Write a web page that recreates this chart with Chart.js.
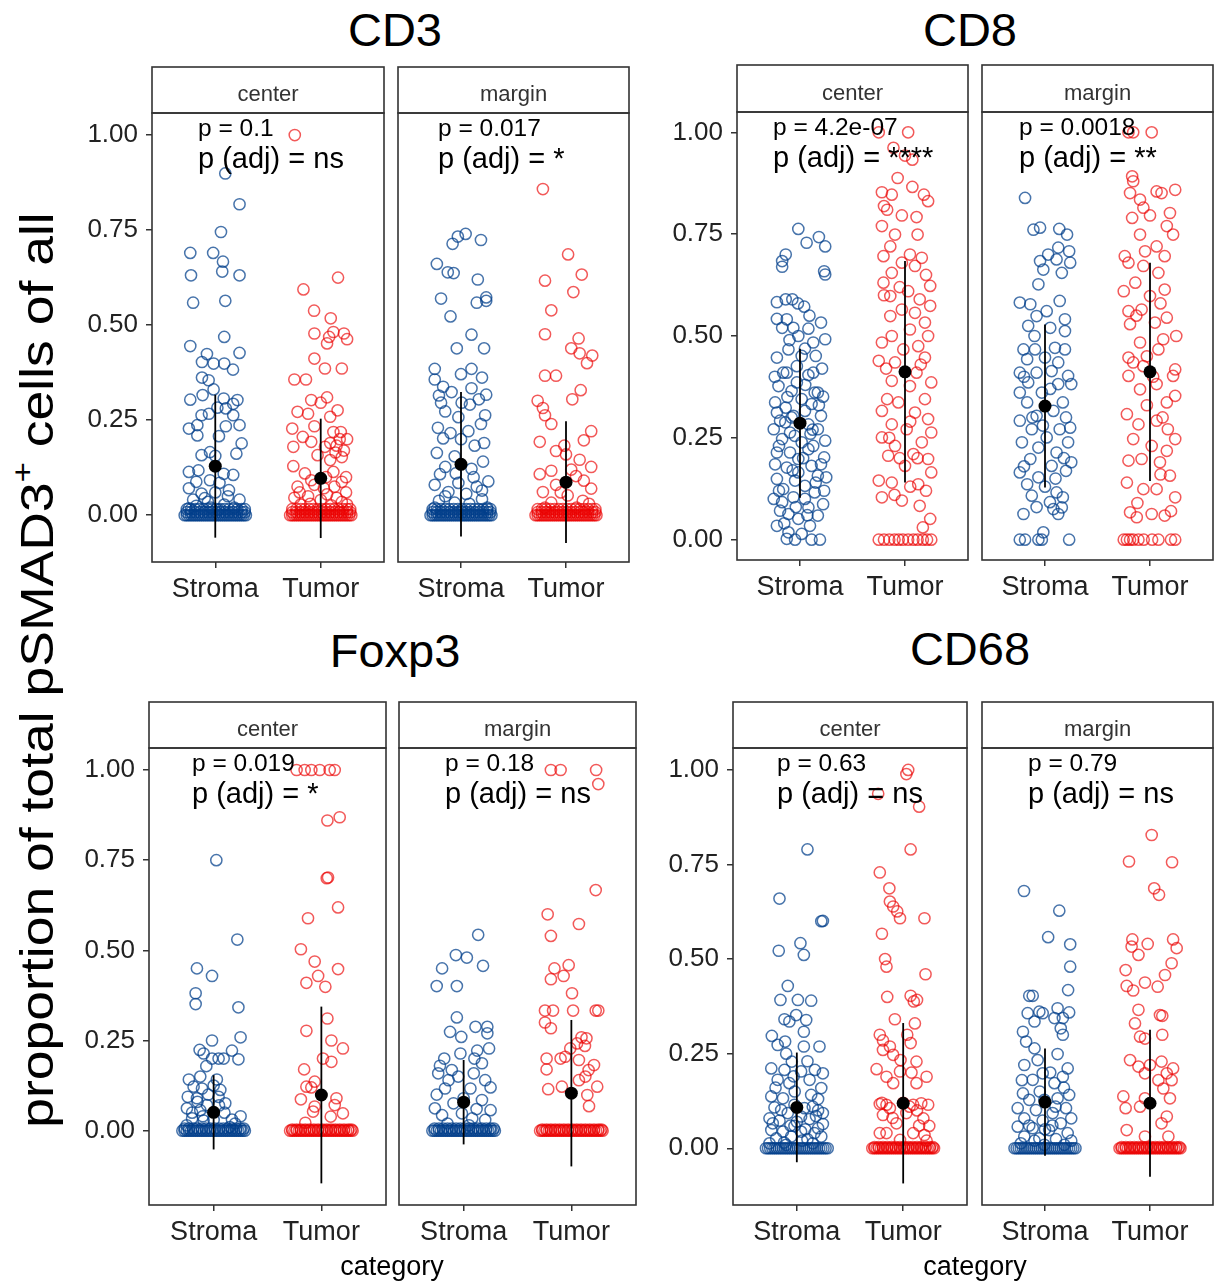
<!DOCTYPE html>
<html>
<head>
<meta charset="utf-8">
<title>pSMAD3 proportions</title>
<script src="https://cdn.jsdelivr.net/npm/chart.js@4.4.1/dist/chart.umd.min.js"></script>
<style>
  html, body { margin: 0; padding: 0; background: #fff; }
  body { width: 1214px; height: 1283px; position: relative; overflow: hidden; font-family: "Liberation Sans", Arial, sans-serif; }
  .facet { position: absolute; }
  .title { position: absolute; width: 300px; text-align: center; font-size: 47px; line-height: 46px; color: #000; }
  .xlab { position: absolute; width: 300px; text-align: center; font-size: 27px; line-height: 27px; color: #000; }
  #ylab { position: absolute; width: 1100px; text-align: center; font-size: 46px; line-height: 46px; white-space: nowrap; transform: rotate(-90deg) scaleX(1.163); color: #000; }
  #ylab sup { font-size: 30px; line-height: 0; vertical-align: 20px; }
</style>
</head>
<body>
<div id="ylab">proportion of total pSMAD3<sup>+</sup> cells of all</div>

<script>
// ---- Data ----
const groups = ['CD3', 'CD8', 'Foxp3', 'CD68'];
const facetNames = ['center', 'margin'];
const categories = ['Stroma', 'Tumor'];
const yTicks = [0, 0.25, 0.5, 0.75, 1];

const pRaw = [['0.1', '0.017'], ['4.2e-07', '0.0018'], ['0.019', '0.18'], ['0.63', '0.79']];
const pAdj = [['ns', '*'], ['****', '**'], ['*', 'ns'], ['ns', 'ns']];

// mean and sd per group, [center, margin]
const meanStroma = [[0.129, 0.134], [0.286, 0.328], [0.051, 0.079], [0.108, 0.122]];
const sdStroma = [[0.188, 0.19], [0.183, 0.2], [0.103, 0.117], [0.145, 0.142]];
const meanTumor = [[0.097, 0.087], [0.412, 0.412], [0.099, 0.104], [0.119, 0.119]];
const sdTumor = [[0.157, 0.16], [0.272, 0.268], [0.245, 0.203], [0.212, 0.194]];

// jittered points: [offset from category, value]
const zeroBandDx = [-0.29, -0.27, -0.25, -0.23, -0.21, -0.19, -0.17, -0.15, -0.13, -0.11, -0.09, -0.07, -0.05, -0.03, -0.01, 0.01, 0.03, 0.05, 0.07, 0.09, 0.11, 0.13, 0.15, 0.17, 0.19, 0.21, 0.23, 0.25, 0.27, 0.29];
const nearZeroDx = [-0.27, -0.23, -0.19, -0.15, -0.11, -0.07, -0.03, 0.01, 0.05, 0.09, 0.13, 0.17, 0.21, 0.25, 0.28];
const band = (y, dxs) => dxs.map(dx => [dx, y]);

const cd3CenterStroma = [[0.095,0.899],[0.23,0.818],[0.054,0.745],[-0.237,0.69],[-0.02,0.69],[0.073,0.667],[-0.23,0.631],[0.066,0.641],[0.23,0.631],[-0.21,0.559],[0.095,0.564],
  [0.085,0.469],[-0.237,0.445],[-0.079,0.424],[0.23,0.427],[-0.126,0.403],[-0.016,0.399],[0.085,0.399],[0.168,0.383],[-0.126,0.362],[-0.063,0.355],[-0.016,0.331],[-0.237,0.304],[-0.12,0.316],[0.08,0.307],[0.21,0.303],[0.17,0.293],[0.02,0.283],[0.1,0.281],[-0.13,0.263],[-0.06,0.267],[0.17,0.263],[-0.25,0.228],[-0.17,0.237],[0.1,0.234],[-0.17,0.21],[0.035,0.208],[0.23,0.237],[0.25,0.189],[0.2,0.162],[-0.13,0.158],[-0.05,0.166],[0,0.156],[-0.25,0.114],[-0.16,0.118],[0.08,0.109],[0.17,0.106],[-0.18,0.088],[-0.05,0.092],[0.04,0.085],[-0.25,0.071],[-0.13,0.057],[0,0.06],[0.13,0.066],[0.23,0.041],[-0.21,0.041],[-0.07,0.035],[0.085,0.028],[-0.25,0.018],
  [-0.1,0.045],[0.12,0.05],[0.18,0.02],[-0.18,0.025],[0.03,0.015],[-0.04,0.02],
  ...band(0, zeroBandDx), ...band(0.008, nearZeroDx), ...band(0.016, nearZeroDx)];
const cd3CenterTumor = [[-0.246,1.0],[0.164,0.625],[-0.164,0.594],[-0.063,0.538],[0.095,0.518],[-0.06,0.478],[0.12,0.482],[0.22,0.478],[0.08,0.469],[0.25,0.463],[0.06,0.452],[-0.06,0.412],[0.04,0.386],[0.2,0.386],[-0.25,0.357],[-0.14,0.357],[-0.09,0.303],[0.06,0.31],[0,0.296],[-0.22,0.272],[-0.12,0.267],[0.16,0.276],[0.09,0.259],[-0.27,0.228],[-0.17,0.206],[-0.06,0.234],[0.12,0.219],[0.19,0.219],[0.25,0.2],[-0.09,0.193],[0.09,0.19],[0.04,0.18],[0.15,0.183],[-0.26,0.18],[-0.03,0.158],[0.2,0.153],[0.09,0.145],[-0.26,0.129],[-0.15,0.11],[0.12,0.114],[0.24,0.1],[-0.09,0.092],[0.2,0.088],[-0.22,0.075],[-0.06,0.08],[0.03,0.071],[0.13,0.075],[0.24,0.06],[-0.25,0.046],[-0.12,0.05],[0,0.04],[0.15,0.046],[-0.19,0.028],[0.1,0.026],[0.25,0.028],
  [0.18,0.2],[0.22,0.17],[0.14,0.165],[-0.2,0.06],[0.06,0.055],[-0.1,0.03],[0.2,0.035],[0.05,0.1],
  ...band(0, zeroBandDx), ...band(0.008, nearZeroDx), ...band(0.016, nearZeroDx)];
const cd3MarginStroma = [[0.044,0.74],[-0.03,0.733],[-0.08,0.714],[0.19,0.724],[-0.23,0.661],[-0.126,0.639],[-0.07,0.637],[0.16,0.62],[-0.19,0.57],[0.15,0.559],[0.24,0.564],[0.24,0.573],[-0.1,0.523],[0.1,0.475],[-0.04,0.439],[0.22,0.439],[-0.25,0.385],[0.1,0.385],[0,0.371],[-0.25,0.357],[-0.17,0.338],[0.2,0.362],[-0.09,0.324],[0.1,0.334],[0.24,0.317],[-0.21,0.315],[-0.19,0.296],[0.006,0.296],[0.17,0.305],[-0.15,0.273],[0.085,0.291],[0.23,0.263],[-0.025,0.258],[0.19,0.24],[-0.1,0.216],[-0.17,0.202],[0.07,0.221],[0.13,0.183],[-0.23,0.164],[-0.06,0.155],[0.21,0.141],[-0.15,0.127],[0.1,0.122],[-0.2,0.108],[0.26,0.089],[-0.025,0.085],[-0.25,0.08],[0.15,0.075],[-0.12,0.061],[0.05,0.056],[0.2,0.042],[-0.21,0.038],[-0.06,0.033],
  [0,0.2],[0.22,0.19],[-0.22,0.23],[-0.05,0.11],[0.12,0.1],[0.2,0.065],[-0.15,0.05],[0.08,0.03],[-0.25,0.02],[0.25,0.02],
  ...band(0, zeroBandDx), ...band(0.008, nearZeroDx), ...band(0.016, nearZeroDx)];
const cd3MarginTumor = [[-0.22,0.858],[0.02,0.686],[0.15,0.633],[-0.2,0.617],[0.07,0.587],[-0.14,0.539],[-0.2,0.476],[0.12,0.465],[0.05,0.439],[0.13,0.426],[0.25,0.42],[0.2,0.4],[-0.2,0.367],[-0.095,0.367],[0.14,0.329],[0.06,0.305],[-0.27,0.301],[-0.22,0.282],[-0.2,0.263],[-0.14,0.24],[0.24,0.221],[0.17,0.197],[-0.25,0.193],[-0.016,0.183],[-0.095,0.169],[0,0.16],[0.13,0.146],[0.24,0.127],[-0.25,0.108],[-0.14,0.117],[0.095,0.103],[0.17,0.091],[-0.095,0.08],[0.24,0.07],[-0.22,0.061],[0.016,0.052],[0.16,0.038],[-0.14,0.033],
  [0.05,0.12],[-0.05,0.06],[0.1,0.02],[-0.2,0.02],[0.22,0.03],
  ...band(0, zeroBandDx), ...band(0.008, nearZeroDx), ...band(0.016, nearZeroDx)];

const cd8CenterStroma = [[-0.016,0.763],[0.063,0.729],[0.18,0.743],[0.24,0.72],[-0.136,0.7],[-0.17,0.684],[-0.17,0.67],[0.23,0.659],[0.24,0.651],[-0.22,0.583],[-0.136,0.59],[-0.073,0.59],[0.04,0.572],[-0.22,0.542],[-0.126,0.541],[-0.063,0.52],[0.2,0.533],[0.08,0.518],[-0.17,0.52],[-0.016,0.5],[0.24,0.492],[0.126,0.484],[0.047,0.469],[-0.11,0.467],[-0.22,0.447],[0.15,0.451],[-0.03,0.426],[-0.126,0.41],[0.08,0.404],[-0.205,0.377],[0.17,0.361],[-0.03,0.386],[-0.08,0.365],[0.22,0.351],[-0.237,0.337],[0.016,0.345],[0.11,0.333],[-0.136,0.324],[-0.22,0.312],[-0.063,0.304],[0.2,0.304],[-0.19,0.292],[0.08,0.283],[0.17,0.271],[-0.25,0.271],[-0.095,0.263],[0.24,0.243],[-0.17,0.247],[0.016,0.239],[0.126,0.23],[-0.22,0.214],[-0.095,0.214],[0.23,0.202],[-0.016,0.198],[-0.237,0.185],[-0.126,0.177],[0.11,0.181],[0.25,0.153],[0.17,0.157],[-0.22,0.149],[-0.047,0.145],[0.047,0.132],[-0.16,0.124],[0.14,0.116],[-0.25,0.1],[-0.063,0.104],[0.22,0.087],[0.08,0.079],[-0.19,0.071],[-0.11,0.063],[0.17,0.059],[-0.016,0.051],[-0.22,0.034],[0.095,0.034],[-0.126,0.002],[-0.047,0],[0.11,0],[0.19,0],[-0.11,0.018],[0.016,0.014],[-0.17,0.092],[0.047,0.1],[-0.016,0.165],[0.08,0.222],[-0.14,0.288],[0.047,0.316],[0.126,0.41],[-0.16,0.41],[0.016,0.451],[0.14,0.361],[-0.05,0.255],[0.2,0.185],
  [-0.2,0.23],[0.1,0.26],[-0.08,0.3],[0.18,0.33],[-0.12,0.35],[0.05,0.38],[-0.24,0.4],[0.21,0.42],[0.03,0.2],[-0.07,0.17],[0.15,0.14],[-0.2,0.12],[0.07,0.06],[-0.04,0.08],[0.23,0.12],[-0.15,0.04],[0.12,0.27],[-0.1,0.49],[0.09,0.55],[-0.02,0.58]];
const cd8CenterTumor = [[0.03,1.0],[-0.25,1.0],[-0.11,0.962],[0,0.943],[0.07,0.933],[-0.07,0.888],[-0.22,0.853],[-0.126,0.847],[0.07,0.866],[0.18,0.847],[0.22,0.831],[-0.2,0.819],[-0.17,0.81],[-0.03,0.796],[0.11,0.792],[-0.22,0.77],[-0.095,0.749],[0.12,0.749],[-0.14,0.72],[-0.205,0.696],[0.047,0.7],[0.16,0.692],[-0.03,0.68],[0.095,0.672],[-0.126,0.655],[0.24,0.623],[-0.205,0.631],[0.03,0.61],[-0.14,0.598],[0.14,0.59],[0.24,0.574],[-0.03,0.565],[0.095,0.557],[-0.14,0.549],[0.19,0.533],[0.047,0.516],[-0.126,0.5],[0.22,0.5],[-0.22,0.484],[0.126,0.475],[-0.016,0.467],[-0.25,0.439],[-0.095,0.435],[0.19,0.447],[0.11,0.41],[-0.126,0.39],[0.25,0.386],[0.047,0.377],[-0.17,0.345],[0.19,0.345],[-0.063,0.337],[0.095,0.312],[-0.22,0.316],[0.22,0.296],[-0.126,0.283],[0.016,0.271],[-0.22,0.251],[0.25,0.263],[0.16,0.239],[-0.095,0.23],[0.08,0.21],[-0.16,0.206],[0.22,0.198],[0,0.181],[0.25,0.165],[-0.25,0.145],[-0.126,0.14],[0.126,0.136],[-0.22,0.104],[-0.03,0.096],[0.14,0.083],[0.24,0.051],[0.17,0.03],
  [-0.25,0],[-0.2,0],[-0.15,0],[-0.1,0],[-0.06,0],[-0.02,0],[0.03,0],[0.08,0],[0.12,0],[0.17,0],[0.21,0],[0.25,0],
  [-0.2,0.6],[0.2,0.65],[-0.05,0.62],[0.15,0.43],[-0.18,0.42],[0.05,0.29],[-0.05,0.2],[0.12,0.2],[-0.15,0.25],[0.2,0.12],[-0.1,0.11],[0.05,0.13]];
const cd8MarginStroma = [[-0.19,0.839],[-0.11,0.761],[-0.047,0.766],[0.136,0.763],[0.21,0.749],[0.126,0.717],[0.03,0.7],[0.23,0.708],[-0.047,0.684],[0.11,0.688],[0.24,0.68],[-0.016,0.663],[0.16,0.655],[-0.063,0.627],[-0.24,0.582],[-0.14,0.578],[0.016,0.561],[0.14,0.586],[-0.08,0.549],[0.19,0.541],[-0.16,0.525],[0.19,0.512],[-0.205,0.467],[-0.095,0.467],[0.095,0.471],[0.19,0.467],[-0.17,0.443],[0,0.447],[0.126,0.435],[-0.24,0.41],[-0.08,0.41],[0.063,0.414],[0.22,0.402],[-0.16,0.386],[0.126,0.382],[0.25,0.382],[-0.24,0.361],[-0.03,0.361],[-0.17,0.337],[0.17,0.337],[0.08,0.316],[-0.08,0.304],[-0.24,0.292],[0.24,0.275],[-0.126,0.271],[0.14,0.271],[0.016,0.251],[-0.22,0.239],[0.22,0.239],[-0.063,0.226],[0.11,0.214],[-0.14,0.198],[0.25,0.19],[0.063,0.181],[-0.24,0.165],[0.2,0.169],[-0.063,0.153],[-0.17,0.136],[0.11,0.116],[0.17,0.104],[0.047,0.092],[-0.126,0.108],[0.16,0.079],[0.08,0.075],[-0.205,0.063],[0.126,0.063],[-0.016,0.018],
  [-0.24,0],[-0.19,0],[-0.063,0],[-0.03,0],[0.23,0],
  [-0.1,0.5],[0.05,0.52],[-0.2,0.4],[0.05,0.37],[-0.12,0.3],[0.2,0.3],[-0.02,0.28],[0.18,0.2],[-0.2,0.18],[0,0.13],[-0.08,0.08],[0.1,0.15]];
const cd8MarginTumor = [[-0.16,1.0],[0.016,1.0],[-0.205,1.0],[-0.17,0.892],[-0.16,0.88],[0.24,0.859],[0.063,0.855],[0.11,0.851],[-0.19,0.851],[-0.095,0.835],[-0.063,0.815],[0.19,0.802],[0,0.796],[-0.17,0.79],[0.16,0.77],[0.22,0.749],[-0.095,0.749],[0.063,0.72],[-0.047,0.708],[0.14,0.696],[-0.24,0.696],[-0.205,0.68],[-0.063,0.672],[0.08,0.655],[-0.14,0.631],[0.14,0.614],[-0.25,0.61],[0,0.598],[-0.08,0.565],[-0.205,0.561],[0.16,0.545],[0.047,0.533],[-0.19,0.529],[0.25,0.5],[0.126,0.492],[-0.095,0.484],[0.08,0.467],[-0.205,0.447],[-0.16,0.435],[-0.063,0.426],[0.24,0.418],[0.22,0.402],[0.063,0.382],[-0.205,0.402],[-0.095,0.369],[0.24,0.353],[0.16,0.337],[-0.22,0.308],[0.063,0.292],[-0.11,0.283],[0.17,0.271],[-0.16,0.247],[0.24,0.247],[0.016,0.23],[0.16,0.218],[-0.08,0.198],[-0.205,0.194],[0.095,0.19],[0.19,0.157],[-0.063,0.124],[0.063,0.124],[0.24,0.104],[-0.19,0.067],[-0.126,0.055],[0.016,0.063],[0.14,0.059],
  [-0.25,0],[-0.22,0],[-0.19,0],[-0.16,0],[-0.11,0],[-0.06,0],[0.02,0],[0.08,0],[0.2,0],[0.24,0],
  [-0.03,0.45],[0.03,0.4],[-0.13,0.55],[0.1,0.58],[-0.03,0.33],[0.12,0.3],[-0.22,0.14],[0.1,0.16],[-0.12,0.09],[0.2,0.07]];

const foxCenterStroma = [[0.025,0.75],[0.22,0.53],[-0.155,0.45],[-0.015,0.429],[-0.167,0.381],[-0.167,0.351],[0.23,0.342],[-0.015,0.25],[0.25,0.259],[-0.13,0.224],[-0.093,0.214],[0.17,0.222],[-0.015,0.2],[0.046,0.2],[0.093,0.2],[0.23,0.198],[-0.068,0.179],[-0.23,0.142],[-0.124,0.15],[0.03,0.142],[-0.186,0.122],[-0.108,0.117],[0.062,0.113],[-0.24,0.094],[-0.155,0.09],[0.046,0.094],[0.108,0.076],[-0.248,0.062],[-0.124,0.057],[-0.062,0.071],[-0.2,0.034],[0.17,0.031],[-0.093,0.028],
  [-0.2,0.05],[-0.1,0.04],[0,0.03],[0.1,0.05],[0.2,0.02],[-0.25,0.015],[0.15,0.01],[0.05,0.07],[-0.15,0.08],[0.25,0.04],[-0.05,0.1],[0,0.125],
  ...band(0, zeroBandDx), ...band(0.006, nearZeroDx)];
const foxCenterTumor = [[-0.23,1],[-0.155,1],[-0.093,1],[-0.015,1],[0.077,1],[0.124,1],[0.17,0.869],[0.056,0.86],[0.062,0.702],[0.05,0.7],[0.155,0.619],[-0.124,0.589],[-0.19,0.503],[-0.062,0.469],[0.155,0.448],[-0.03,0.429],[-0.139,0.41],[0.037,0.399],[0.056,0.311],[-0.139,0.277],[0.093,0.25],[0.2,0.228],[0.015,0.2],[0.093,0.191],[-0.16,0.17],[-0.062,0.136],[-0.139,0.122],[-0.093,0.12],[-0.19,0.087],[0.14,0.09],[-0.062,0.067],[0.124,0.071],[-0.077,0.053],[0.2,0.048],[0.087,0.039],[-0.149,0.022],
  ...band(0, zeroBandDx), ...band(0.003, nearZeroDx)];
const foxMarginStroma = [[0.135,0.543],[-0.072,0.487],[0.03,0.48],[-0.2,0.45],[0.18,0.457],[-0.25,0.401],[-0.063,0.401],[-0.063,0.314],[-0.126,0.274],[-0.022,0.26],[0.11,0.288],[0.22,0.288],[0.22,0.27],[0.126,0.222],[0.236,0.228],[-0.18,0.2],[-0.03,0.214],[-0.236,0.159],[-0.11,0.168],[0.094,0.159],[0.2,0.14],[-0.173,0.117],[0.063,0.117],[-0.267,0.062],[0.25,0.057],[-0.094,0.076],[0.17,0.085],[-0.2,0.043],[0.08,0.034],[-0.016,0.048],[-0.14,0.14],[0.17,0.187],
  [-0.25,0.1],[0,0.09],[0.12,0.06],[-0.05,0.15],[0.25,0.12],[-0.15,0.02],[0.05,0.015],[0.2,0.03],[-0.22,0.18],[0.1,0.2],
  ...band(0, zeroBandDx), ...band(0.006, nearZeroDx)];
const foxMarginTumor = [[-0.19,1],[-0.1,1],[0.23,1],[0.25,0.961],[0.226,0.667],[-0.22,0.6],[0.07,0.573],[-0.19,0.54],[-0.025,0.459],[-0.157,0.45],[-0.072,0.429],[-0.19,0.42],[0.006,0.381],[-0.245,0.333],[-0.17,0.333],[0.016,0.333],[0.226,0.333],[0.25,0.333],[-0.245,0.3],[-0.19,0.284],[0.094,0.259],[0.14,0.256],[0.053,0.242],[-0.01,0.228],[0.126,0.235],[-0.057,0.205],[-0.23,0.2],[-0.1,0.2],[0.07,0.196],[0.21,0.182],[-0.23,0.17],[0.16,0.168],[0.07,0.14],[0.13,0.15],[-0.088,0.122],[0.24,0.122],[-0.215,0.115],[0.148,0.099],[0.164,0.068],
  ...band(0, zeroBandDx), ...band(0.003, nearZeroDx)];

const cd68CenterStroma = [[0.1,0.79],[-0.163,0.66],[0.245,0.601],[0.23,0.6],[0.034,0.542],[-0.17,0.522],[0.066,0.511],[-0.085,0.429],[-0.154,0.392],[0.01,0.392],[0.135,0.39],[-0.116,0.341],[-0.006,0.352],[0.088,0.339],[-0.07,0.335],[0.066,0.308],[-0.235,0.297],[-0.11,0.282],[-0.18,0.273],[0.066,0.269],[0.213,0.269],[-0.047,0.229],[-0.24,0.211],[-0.116,0.207],[0.04,0.203],[0.17,0.207],[0.245,0.198],[-0.18,0.181],[0.12,0.181],[-0.07,0.172],[0.23,0.159],[0.135,0.141],[-0.24,0.137],[-0.13,0.132],[-0.02,0.15],[-0.21,0.108],[0.072,0.106],[0.2,0.1],[-0.085,0.093],[-0.257,0.079],[-0.163,0.073],[0.12,0.077],[0.245,0.064],[-0.022,0.059],[-0.24,0.048],[-0.13,0.044],[0.04,0.044],[0.166,0.04],[-0.194,0.026],[-0.053,0.031],[0.1,0.024],[0.23,0.031],[-0.257,0.013],[-0.1,0.009],[0.15,0.013],[-0.226,0.066],[0.04,0.084],[0.2,0.053],[-0.147,0.101],[0.245,0.093],[-0.022,0.115],
  [0,0.07],[0.08,0.05],[-0.06,0.06],[0.15,0.11],[-0.2,0.16],[0.1,0.23],[-0.1,0.25],[0.18,0.085],[-0.12,0.015],[0.05,0.02],[-0.03,0.19],[0.2,0.13],
  ...band(0, zeroBandDx)];
const cd68CenterTumor = [[0.047,1],[0.03,0.989],[-0.235,0.937],[0.15,0.903],[0.07,0.79],[-0.22,0.729],[-0.13,0.687],[-0.125,0.652],[-0.094,0.639],[-0.056,0.626],[-0.03,0.608],[0.2,0.608],[-0.2,0.567],[-0.17,0.5],[-0.157,0.48],[0.21,0.46],[-0.15,0.4],[0.07,0.403],[0.1,0.388],[0.13,0.392],[-0.078,0.341],[0.11,0.33],[0.038,0.3],[-0.22,0.3],[-0.19,0.285],[-0.125,0.269],[0.07,0.278],[-0.19,0.26],[-0.094,0.247],[-0.025,0.233],[0.125,0.229],[-0.25,0.209],[-0.157,0.189],[0.22,0.189],[-0.03,0.203],[0.078,0.2],[-0.094,0.172],[0.125,0.172],[-0.22,0.117],[-0.157,0.115],[-0.125,0.106],[0.094,0.115],[0.17,0.119],[0.235,0.115],[-0.19,0.088],[0.03,0.093],[0.19,0.079],[-0.063,0.066],[0.245,0.059],[-0.157,0.04],[0.094,0.04],[0.2,0.035],[-0.03,0.022],
  [-0.2,0.12],[0,0.12],[0.06,0.11],[0.13,0.1],[-0.1,0.08],[0.15,0.06],[-0.22,0.04],[0.22,0.02],
  ...band(0, zeroBandDx), ...band(0.003, nearZeroDx)];
const cd68MarginStroma = [[-0.2,0.68],[0.136,0.628],[0.03,0.558],[0.24,0.539],[0.24,0.48],[0.22,0.418],[-0.15,0.403],[-0.117,0.403],[-0.054,0.361],[-0.165,0.357],[-0.022,0.357],[0.12,0.37],[0.23,0.359],[0.09,0.344],[0.17,0.344],[-0.1,0.335],[-0.21,0.308],[0.15,0.317],[-0.18,0.282],[0.17,0.3],[-0.1,0.264],[0.12,0.249],[-0.197,0.22],[-0.07,0.233],[0.216,0.211],[-0.022,0.198],[0.17,0.189],[-0.117,0.181],[0.09,0.172],[-0.21,0.145],[0.23,0.141],[-0.15,0.128],[0.12,0.132],[-0.006,0.128],[-0.26,0.106],[0.2,0.106],[-0.086,0.101],[0.073,0.093],[-0.197,0.079],[0.25,0.079],[-0.022,0.073],[0.15,0.066],[-0.26,0.057],[-0.117,0.053],[0.04,0.048],[0.216,0.04],[-0.197,0.031],[-0.054,0.026],[0.105,0.024],[-0.23,0.013],[-0.006,0.009],[0.184,0.009],
  [-0.05,0.15],[0.05,0.2],[-0.15,0.06],[0.1,0.11],[-0.22,0.18],[0,0.05],[0.18,0.16],[-0.1,0.02],[0.07,0.06],[0.25,0.02],
  ...band(0, zeroBandDx)];
const cd68MarginTumor = [[0.016,0.828],[-0.2,0.758],[0.21,0.756],[0.04,0.687],[0.086,0.67],[-0.168,0.552],[-0.022,0.54],[0.22,0.552],[0.254,0.529],[-0.175,0.533],[-0.11,0.511],[0.206,0.489],[-0.232,0.471],[0.143,0.458],[-0.048,0.438],[-0.222,0.429],[-0.16,0.417],[0.073,0.427],[-0.11,0.366],[0.095,0.352],[0.117,0.35],[-0.143,0.33],[-0.095,0.295],[-0.048,0.29],[0.117,0.3],[-0.19,0.233],[-0.11,0.216],[0,0.22],[0.11,0.229],[0.22,0.211],[-0.048,0.198],[0.16,0.198],[0.08,0.18],[0.206,0.18],[0.127,0.158],[-0.254,0.137],[-0.048,0.132],[0.19,0.132],[-0.232,0.106],[-0.095,0.11],[0.16,0.084],[0.11,0.066],[-0.222,0.048],[-0.048,0.031],[0.175,0.031],
  ...band(0, zeroBandDx), ...band(0.003, nearZeroDx)];

const stromaPoints = [[cd3CenterStroma, cd3MarginStroma], [cd8CenterStroma, cd8MarginStroma], [foxCenterStroma, foxMarginStroma], [cd68CenterStroma, cd68MarginStroma]];
const tumorPoints = [[cd3CenterTumor, cd3MarginTumor], [cd8CenterTumor, cd8MarginTumor], [foxCenterTumor, foxMarginTumor], [cd68CenterTumor, cd68MarginTumor]];

// ---- Layout ----
const FONT = '"Liberation Sans", Arial, sans-serif';
const BLUE = 'rgba(0, 62, 138, 0.72)';
const RED = 'rgba(235, 0, 0, 0.65)';
const INK = '#222';

const panelLeft = [[152, 398], [737, 982], [149, 399], [733, 982]];
const panelRight = [[384, 629], [968, 1213], [386, 636], [967, 1213]];
const stripTop = [67, 65, 702, 702];
const plotTop = [113, 112, 748, 748];
const plotBottom = [562, 560, 1205, 1205];
const yMin = [-0.123, -0.05, -0.206, -0.15];
const yMax = [1.058, 1.05, 1.061, 1.058];
const pTextX = [[46, 40], [36, 37], [43, 46], [44, 46]];
const titleX = [395, 970, 395, 970];
const titleY = [29, 29, 650, 648];

// Panel decorations: strip, border, p-value labels
const facetDecor = {
    id: 'facetDecor',
    afterDraw(chart, args, opts) {
        const { ctx, chartArea: a } = chart;
        ctx.save();
        // p-values
        ctx.fillStyle = '#000';
        ctx.textAlign = 'left';
        ctx.textBaseline = 'alphabetic';
        ctx.font = `24.5px ${FONT}`;
        ctx.fillText('p = ' + opts.p, a.left + opts.textX, a.top + 23);
        ctx.font = `29px ${FONT}`;
        ctx.fillText('p (adj) = ' + opts.adj, a.left + opts.textX, a.top + 55);
        // strip
        ctx.lineWidth = 1.6;
        ctx.strokeStyle = '#333';
        ctx.fillStyle = '#fff';
        ctx.fillRect(a.left, opts.stripTop, a.right - a.left, a.top - opts.stripTop);
        ctx.strokeRect(a.left, opts.stripTop, a.right - a.left, a.top - opts.stripTop);
        ctx.fillStyle = '#333';
        ctx.textAlign = 'center';
        ctx.font = `22px ${FONT}`;
        ctx.fillText(opts.label, (a.left + a.right) / 2, a.top - 12);
        // panel border
        ctx.strokeRect(a.left, a.top, a.right - a.left, a.bottom - a.top);
        ctx.restore();
    }
};

function makeFacet(g, f) {
    const showY = f === 0;
    const padL = showY ? 95 : 4;
    const padR = 4;
    const axisH = 52;
    const canvasTop = stripTop[g] - 2;
    const plotW = panelRight[g][f] - panelLeft[g][f];
    const w = padL + plotW + padR;
    const h = plotBottom[g] - canvasTop + axisH;

    const wrap = document.createElement('div');
    wrap.className = 'facet';
    wrap.style.left = (panelLeft[g][f] - padL) + 'px';
    wrap.style.top = canvasTop + 'px';
    wrap.style.width = w + 'px';
    wrap.style.height = h + 'px';
    const canvas = document.createElement('canvas');
    canvas.width = w;
    canvas.height = h;
    canvas.style.width = w + 'px';
    canvas.style.height = h + 'px';
    wrap.appendChild(canvas);
    document.body.appendChild(wrap);

    const mS = meanStroma[g][f], sS = sdStroma[g][f];
    const mT = meanTumor[g][f], sT = sdTumor[g][f];
    const tickGrid = { display: true, drawOnChartArea: false, drawTicks: true, tickLength: 6, color: '#333', lineWidth: 1.5 };

    new Chart(canvas, {
        type: 'scatter',
        data: {
            datasets: [
                { data: [{ x: 1, y: mS }, { x: 2, y: mT }], pointRadius: 6.5, backgroundColor: '#000', borderWidth: 0 },
                { type: 'line', data: [{ x: 1, y: mS - sS }, { x: 1, y: mS + sS }], borderColor: '#000', borderWidth: 1.8, pointRadius: 0 },
                { type: 'line', data: [{ x: 2, y: mT - sT }, { x: 2, y: mT + sT }], borderColor: '#000', borderWidth: 1.8, pointRadius: 0 },
                { data: tumorPoints[g][f].map(([dx, y]) => ({ x: 2 + dx, y })), pointRadius: 5.6, borderColor: RED, backgroundColor: 'rgba(0,0,0,0)', borderWidth: 1.5 },
                { data: stromaPoints[g][f].map(([dx, y]) => ({ x: 1 + dx, y })), pointRadius: 5.6, borderColor: BLUE, backgroundColor: 'rgba(0,0,0,0)', borderWidth: 1.5 }
            ]
        },
        options: {
            responsive: false,
            animation: false,
            events: [],
            layout: { autoPadding: false, padding: { top: plotTop[g] - canvasTop, left: showY ? 0 : padL, right: padR, bottom: 0 } },
            plugins: {
                legend: { display: false },
                tooltip: { enabled: false },
                facetDecor: { p: pRaw[g][f], adj: pAdj[g][f], label: facetNames[f], stripTop: 2, textX: pTextX[g][f] }
            },
            scales: {
                x: {
                    type: 'linear', min: 0.4, max: 2.6,
                    afterBuildTicks: s => { s.ticks = [{ value: 1 }, { value: 2 }]; },
                    afterFit: s => { s.height = axisH; },
                    ticks: { callback: v => categories[v - 1], font: { size: 27, family: FONT }, color: INK, padding: 5, maxRotation: 0, autoSkip: false },
                    grid: tickGrid,
                    border: { display: false }
                },
                y: {
                    display: showY,
                    min: yMin[g], max: yMax[g],
                    afterBuildTicks: s => { s.ticks = yTicks.map(v => ({ value: v })); },
                    afterFit: s => { s.width = showY ? padL : 0; },
                    ticks: { callback: v => v.toFixed(2), font: { size: 26, family: FONT }, color: INK, padding: 8, autoSkip: false },
                    grid: tickGrid,
                    border: { display: false }
                }
            }
        },
        plugins: [facetDecor]
    });
}

function addText(cls, text, cx, top) {
    const d = document.createElement('div');
    d.className = cls;
    d.textContent = text;
    d.style.left = (cx - 150) + 'px';
    d.style.top = top + 'px';
    document.body.appendChild(d);
}

function init() {
    groups.forEach((name, g) => {
        addText('title', name, titleX[g], titleY[g] - 22.5);
        makeFacet(g, 0);
        makeFacet(g, 1);
    });
    addText('xlab', 'category', 392, 1253);
    addText('xlab', 'category', 975, 1253);
    const yl = document.getElementById('ylab');
    yl.style.left = (36.5 - 550) + 'px';
    yl.style.top = (670 - 23) + 'px';
}

init();
</script>
</body>
</html>
